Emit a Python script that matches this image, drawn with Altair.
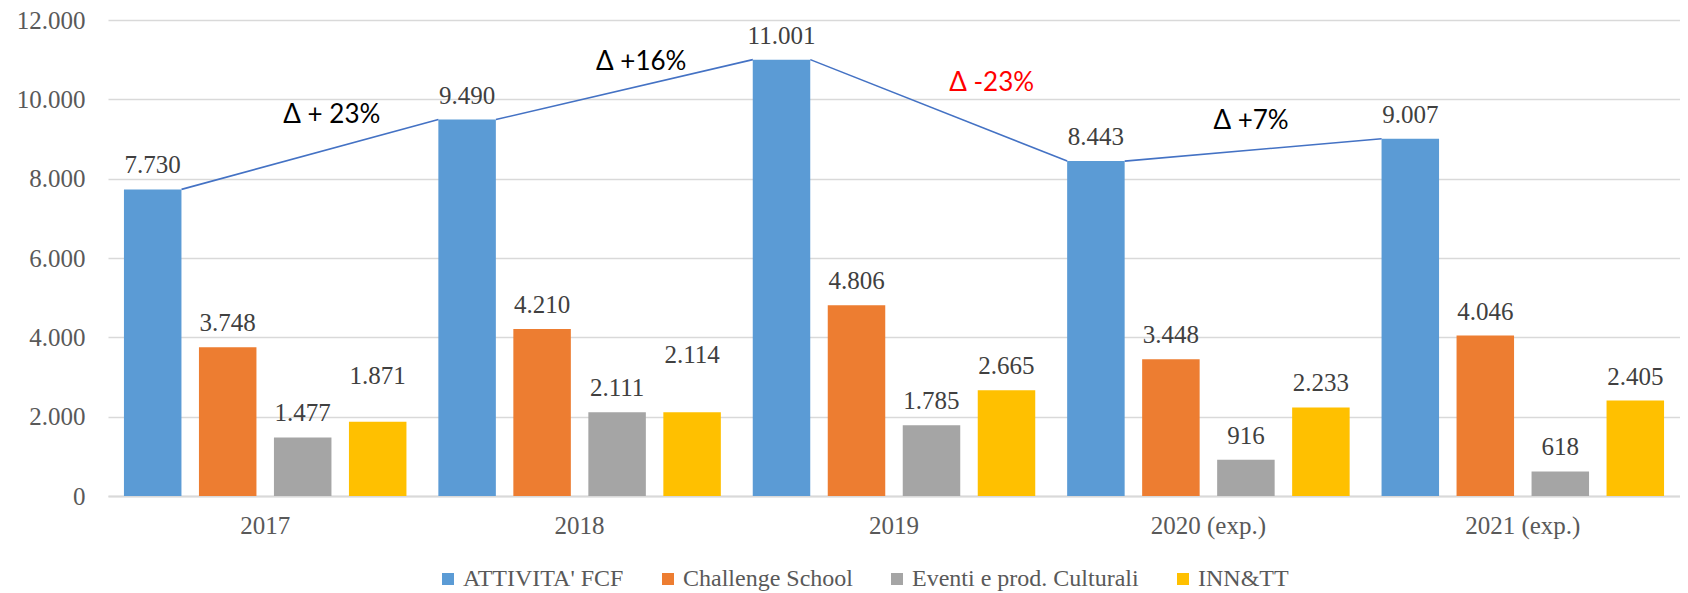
import altair as alt
import pandas as pd

# ---------------- data ----------------
years = ["2017", "2018", "2019", "2020 (exp.)", "2021 (exp.)"]
series = ["ATTIVITA' FCF", "Challenge School", "Eventi e prod. Culturali", "INN&TT"]
attivita = [7730, 9490, 11001, 8443, 9007]
challenge = [3748, 4210, 4806, 3448, 4046]
eventi = [1477, 2111, 1785, 916, 618]
inntt = [1871, 2114, 2665, 2233, 2405]
delta_text = ["Δ + 23%", "Δ +16%", "Δ -23%", "Δ +7%"]

colors = ["#5B9BD5", "#ED7D31", "#A5A5A5", "#FFC000"]
delta_colors = ["#000000", "#000000", "#FF0000", "#000000"]

rows = []
for s, vals in zip(series, [attivita, challenge, eventi, inntt]):
    for yr, v in zip(years, vals):
        rows.append({"year": yr, "series": s, "value": v})
df = pd.DataFrame(rows)

# two labels in the reference were moved upward by hand
label_lift = {("2017", "INN&TT"): 22, ("2018", "INN&TT"): 33}
df["lift"] = [label_lift.get((r.year, r.series), 0) for r in df.itertuples()]

seg = pd.DataFrame({
    "year": years[:-1],
    "year2": years[1:],
    "value": attivita[:-1],
    "value2": attivita[1:],
    "text": delta_text,
})
seg["mid"] = (seg["value"] + seg["value2"]) / 2

# ---------------- styling ----------------
SERIF = "Liberation Serif"
AXIS_GRAY = "#595959"
LABEL_GRAY = "#404040"
GRID = "#D9D9D9"

x_enc = alt.X(
    "year:N", sort=years, title=None,
    scale=alt.Scale(paddingInner=0, paddingOuter=0),
    axis=alt.Axis(labelAngle=0, ticks=False, tickSize=0, domainColor=GRID, domainWidth=2,
                  labelFont=SERIF, labelFontSize=25, labelColor=AXIS_GRAY,
                  labelPadding=17, grid=False),
)
xoff_enc = alt.XOffset("series:N", sort=series,
                       scale=alt.Scale(paddingInner=0.2333, paddingOuter=0.2127))
y_enc = alt.Y(
    "value:Q", title=None,
    scale=alt.Scale(domain=[0, 12000], nice=False),
    axis=alt.Axis(values=[0, 2000, 4000, 6000, 8000, 10000, 12000], domain=False,
                  ticks=False, tickSize=0, gridColor=GRID, gridWidth=1.5,
                  labelFont=SERIF, labelFontSize=25, labelColor=AXIS_GRAY, labelPadding=23,
                  labelExpr="replace(format(datum.value, ','), ',', '.')"),
)

base = alt.Chart(df).transform_calculate(
    label="replace(format(datum.value, ','), ',', '.')"
)

bars = base.mark_bar().encode(
    x=x_enc,
    xOffset=xoff_enc,
    y=y_enc,
    color=alt.Color(
        "series:N", sort=series,
        scale=alt.Scale(domain=series, range=colors),
        legend=alt.Legend(orient="none", legendX=328, legendY=547, direction="horizontal",
                          title=None, symbolType="square", symbolSize=144,
                          symbolStrokeWidth=0, labelFont=SERIF, labelFontSize=24,
                          labelColor=AXIS_GRAY, columnPadding=32, labelOffset=3,
                          labelLimit=500, padding=0),
    ),
)

label_layers = []
for lift in sorted(set(df["lift"])):
    label_layers.append(
        base.transform_filter(alt.datum.lift == lift)
        .mark_text(baseline="alphabetic", dy=-16 - lift, font=SERIF, fontSize=25,
                   color=LABEL_GRAY)
        .encode(x=alt.X("year:N", sort=years, title=None), xOffset=xoff_enc,
                y=alt.Y("value:Q", title=None), text="label:N")
    )

rule = alt.Chart(seg).mark_rule(color="#4472C4", strokeWidth=1.6).encode(
    x=alt.X("year:N", sort=years, title=None, bandPosition=0.2338),
    x2=alt.X2("year2:N", bandPosition=0.0509),
    y=alt.Y("value:Q", title=None),
    y2=alt.Y2("value2:Q"),
)

ann_dx = [22, 17, 53, -2]
ann_dy = [-39, -28, -27, -29]
ann_layers = []
for i in range(len(delta_text)):
    ann_layers.append(
        alt.Chart(seg.iloc[[i]]).mark_text(
            font="Lato", fontSize=26, color=delta_colors[i], baseline="middle",
            dx=ann_dx[i], dy=ann_dy[i]
        ).encode(
            x=alt.X("year:N", sort=years, title=None, bandPosition=0.642),
            y=alt.Y("mid:Q", title=None),
            text="text:N",
        )
    )

chart = alt.layer(bars, *label_layers, rule, *ann_layers).properties(
    width=1572, height=476,
    autosize=alt.AutoSizeParams(type="none"),
    padding={"left": 100, "top": 12, "right": 0, "bottom": 96},
).configure_view(stroke=None)

chart.save("out.html", embed_options={"renderer": "svg", "actions": False})
